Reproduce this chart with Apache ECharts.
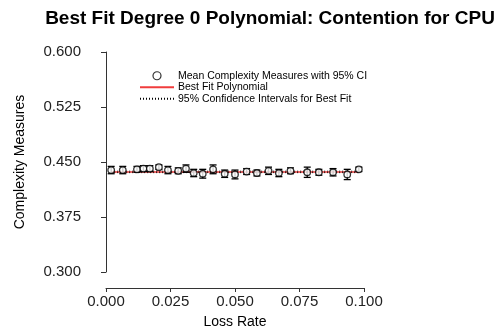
<!DOCTYPE html>
<html>
<head>
<meta charset="utf-8">
<script src="https://cdn.jsdelivr.net/npm/echarts@6/dist/echarts.min.js"></script>
<style>
  html, body { margin: 0; padding: 0; background: #fff; }
  #main { width: 496px; height: 329px; }
</style>
</head>
<body>
<div id="main"></div>
<script>
// loss rate of each measurement
var lossRate = [0.002, 0.0065, 0.012, 0.0145, 0.017, 0.0205, 0.024, 0.028, 0.031, 0.034, 0.0375, 0.0415,
                0.046, 0.050, 0.0545, 0.0585, 0.063, 0.067, 0.0715, 0.078, 0.0825, 0.088, 0.0935, 0.098];
// mean complexity and 95% CI half width
var meanVal = [0.439, 0.439, 0.440, 0.441, 0.441, 0.443, 0.439, 0.438, 0.441, 0.435, 0.434, 0.440,
               0.434, 0.433, 0.437, 0.435, 0.438, 0.435, 0.438, 0.436, 0.436, 0.436, 0.433, 0.440];
var ciHalf = [0.005, 0.005, 0.004, 0.004, 0.004, 0.003, 0.005, 0.004, 0.005, 0.005, 0.006, 0.006,
              0.005, 0.006, 0.004, 0.004, 0.005, 0.005, 0.004, 0.007, 0.004, 0.005, 0.007, 0.003];
// degree 0 fit and its confidence band
var fitX = [0.002, 0.098];
var fitVal = 0.4365;
var ciLow = 0.4355;
var ciHigh = 0.4375;

var yTicks = ['0.300', '0.375', '0.450', '0.525', '0.600'];

var myChart = echarts.init(document.getElementById('main'));

var points = lossRate.map(function (x, i) { return [x, meanVal[i]]; });
var bars = lossRate.map(function (x, i) { return [x, meanVal[i] - ciHalf[i], meanVal[i] + ciHalf[i]]; });

var font = 'Liberation Sans, Arial, sans-serif';

var option = {
    animation: false,
    backgroundColor: '#fff',
    title: {
        text: 'Best Fit Degree 0 Polynomial: Contention for CPU',
        left: 265, top: 4, textAlign: 'center',
        textStyle: { fontFamily: font, fontSize: 19, fontWeight: 'bold', color: '#000' }
    },
    legend: {
        orient: 'vertical',
        left: 139, top: 70, padding: 0,
        itemWidth: 34, itemHeight: 8, itemGap: 0,
        textStyle: { fontFamily: font, fontSize: 10.5, lineHeight: 11.5, color: '#000', padding: [0, 0, 0, -1] },
        data: [
            { name: 'Mean Complexity Measures with 95% CI', icon: 'circle',
              itemStyle: { color: '#fff', borderColor: '#000', borderWidth: 1.2 } },
            { name: 'Best Fit Polynomial', itemStyle: { opacity: 0 } },
            { name: '95% Confidence Intervals for Best Fit', itemStyle: { opacity: 0 } }
        ]
    },
    grid: { left: 106, right: 132, top: 52, bottom: 57, containLabel: false, outerBoundsMode: 'none' },
    xAxis: {
        type: 'value', min: 0, max: 0.1, interval: 0.025,
        offset: 16,
        name: 'Loss Rate', nameLocation: 'middle', nameGap: 27,
        nameTextStyle: { fontFamily: font, fontSize: 14, color: '#000' },
        axisLine: { show: true, lineStyle: { color: '#333', width: 1 } },
        axisTick: { show: true, inside: false, length: 4, lineStyle: { color: '#333' } },
        axisLabel: { fontFamily: font, fontSize: 15, color: '#222', margin: 6,
            formatter: function (v) { return v.toFixed(3); } },
        splitLine: { show: false }
    },
    yAxis: {
        type: 'value', min: 0.3, max: 0.6, interval: 0.075,
        offset: 14,
        name: 'Complexity Measures', nameLocation: 'middle', nameGap: 65,
        nameTextStyle: { fontFamily: font, fontSize: 14, color: '#000' },
        axisLine: { show: true, lineStyle: { color: '#333', width: 1 } },
        axisTick: { show: true, length: 5, lineStyle: { color: '#333' } },
        axisLabel: { fontFamily: font, fontSize: 15, color: '#222', margin: 11,
            formatter: function (v) { return yTicks[Math.round((v - 0.3) / 0.075)]; } },
        splitLine: { show: false }
    },
    series: [
        {
            name: 'Best Fit Polynomial',
            type: 'line',
            data: fitX.map(function (x) { return [x, fitVal]; }),
            symbol: 'none',
            lineStyle: { color: '#f03c3c', width: 1.5 },
            itemStyle: { color: '#f03c3c' },
            z: 2
        },
        {
            name: '95% Confidence Intervals for Best Fit',
            type: 'line',
            data: fitX.map(function (x) { return [x, ciLow]; }),
            symbol: 'none',
            lineStyle: { color: '#000', width: 1, type: [1, 2] },
            itemStyle: { color: '#000' },
            z: 3
        },
        {
            name: '95% Confidence Intervals for Best Fit',
            type: 'line',
            data: fitX.map(function (x) { return [x, ciHigh]; }),
            symbol: 'none',
            lineStyle: { color: '#000', width: 1, type: [1, 2] },
            itemStyle: { color: '#000' },
            z: 3
        },
        {
            name: 'errorbars',
            type: 'custom',
            data: bars,
            z: 4,
            renderItem: function (params, api) {
                var x = api.value(0);
                var lo = api.coord([x, api.value(1)]);
                var hi = api.coord([x, api.value(2)]);
                var w = 3.5;
                var st = { stroke: '#000', lineWidth: 1.3 };
                return {
                    type: 'group',
                    children: [
                        { type: 'line', shape: { x1: lo[0], y1: lo[1], x2: hi[0], y2: hi[1] }, style: st },
                        { type: 'line', shape: { x1: lo[0] - w, y1: lo[1], x2: lo[0] + w, y2: lo[1] }, style: st },
                        { type: 'line', shape: { x1: hi[0] - w, y1: hi[1], x2: hi[0] + w, y2: hi[1] }, style: st }
                    ]
                };
            }
        },
        {
            name: 'Mean Complexity Measures with 95% CI',
            type: 'scatter',
            data: points,
            symbol: 'circle',
            symbolSize: 6.5,
            itemStyle: { color: '#fff', borderColor: '#000', borderWidth: 1.3 },
            z: 5
        }
    ]
};

myChart.setOption(option);
</script>
</body>
</html>
